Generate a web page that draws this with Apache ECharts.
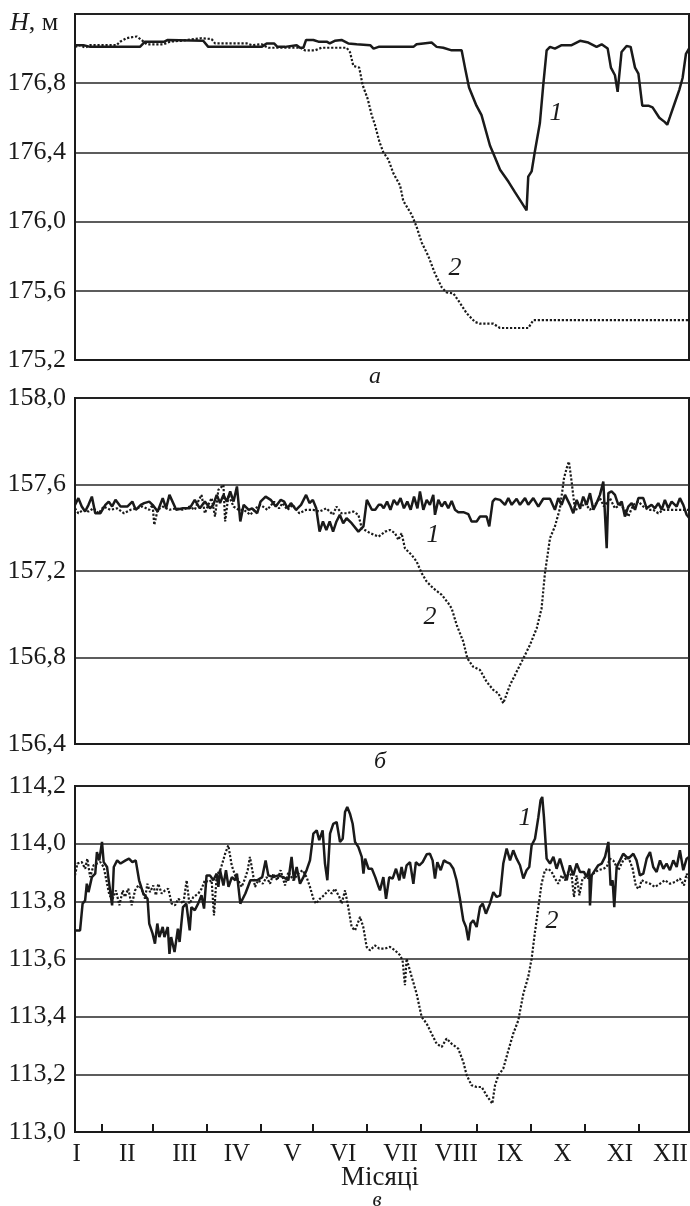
<!DOCTYPE html>
<html>
<head>
<meta charset="utf-8">
<script src="https://cdn.jsdelivr.net/npm/echarts@6/dist/echarts.min.js"></script>
<style>
  html, body { margin: 0; padding: 0; background: #fff; }
  #chart { width: 690px; height: 1206px; }
</style>
</head>
<body>
<div id="chart"></div>
<script>
// days of the year (0..364) against water level H, m
var aSolid = [[0,177.02],[5,177.02],[9,177.01],[38.5,177.01],[41.5,177.04],[53,177.04],[55,177.05],[76,177.045],[79,177.01],[110.6,177.01],[113.6,177.03],[118,177.03],[120,177.01],[124.5,177.01],[125.5,177.02],[131.4,177.02],[133.4,177.005],[135.4,177.005],[137,177.05],[141.3,177.05],[144.3,177.04],[149.2,177.04],[151,177.03],[154,177.045],[158,177.05],[162,177.03],[167,177.025],[175,177.02],[177,177.0],[180,177.01],
  [200.6,177.01],[202.5,177.025],[206.5,177.03],[211.4,177.035],[214.4,177.01],[218.3,177.005],[223.3,176.99],[229.2,176.99],[231.2,176.89],[233.6,176.775],[238,176.67],[241,176.615],[246,176.44],[249,176.37],[252,176.30],[257,176.23],[260.8,176.17],[264.8,176.11],[267.7,176.065],[268.7,176.26],[270.7,176.29],[272.7,176.41],[275.6,176.57],[277.6,176.79],[279.6,176.99],[281.6,177.01],[284.5,177.0],[288.5,177.02],[294.4,177.02],[299.4,177.045],[304.3,177.035],[309.2,177.01],[312.2,177.025],[315.8,177.0],[317.7,176.89],[320.1,176.846],[321.7,176.75],[324,176.98],[327,177.015],[329.4,177.01],[332,176.89],[334,176.855],[336.3,176.67],[339.9,176.67],[342.4,176.66],[346.4,176.60],[349.7,176.575],[351.1,176.56],[352.7,176.605],[355.7,176.69],[358.2,176.76],[360.2,176.83],[362.2,176.97],[364,177.0]];
var aDotted = [[0,177.01],[3,177.02],[6,177.005],[9,177.02],[24.7,177.02],[26.7,177.04],[30.6,177.06],[33,177.065],[36.6,177.07],[39.5,177.05],[42.5,177.025],[52.4,177.025],[56.3,177.04],[62.2,177.045],[75,177.06],[81,177.055],[83,177.03],[101.8,177.03],[104.7,177.02],[110.6,177.025],[114.6,177.005],[133.4,177.005],[136.3,176.99],[142.3,176.99],[146.2,177.005],[161,177.005],[163,176.98],[165,176.90],[168.5,176.89],[170.5,176.79],[173.5,176.71],[175.9,176.615],[177.8,176.56],[180.5,176.46],
  [182.8,176.40],[185.7,176.36],[188.7,176.28],[192.7,176.21],[194.6,176.12],[199.6,176.04],[202.5,175.97],[205.5,175.88],[209.5,175.80],[213.4,175.70],[217.4,175.62],[220.3,175.59],[224.3,175.585],[228.2,175.53],[232.2,175.47],[237.1,175.42],[240.1,175.41],[248,175.41],[251.9,175.385],[268.7,175.385],[271.7,175.43],[364,175.43]];

var bSolid = [[0,157.506],[2,157.537],[4,157.498],[6,157.475],[8,157.506],[10,157.544],[12,157.467],[15,157.467],[18,157.506],[20,157.521],[22,157.498],[24,157.529],[27,157.498],[31,157.498],[34,157.521],[36,157.483],[39,157.506],[41,157.514],[44,157.521],[46,157.506],[49,157.475],[52,157.537],[54,157.49],[56,157.552],[60,157.483],[64,157.49],[68,157.49],[71,157.529],[74,157.49],[77,157.521],[80,157.49],[82,157.506],[84,157.552],[86,157.514],[88,157.552],[90,157.521],[92,157.568],[94,157.521],[96,157.591],[97,157.591],[98,157.429],[100,157.506],[103,157.483],[105,157.49],[108,157.467],[110,157.521],[113,157.544],[116,157.529],[119,157.498],[122,157.529],[124,157.521],[126,157.49],[128,157.514],[131,157.483],[134,157.506],[137,157.552],[139,157.514],[141,157.529],[143,157.49],[145,157.382],[147,157.429],[149,157.39],[151,157.429],[153,157.382],[155,157.429],[157,157.46],[159,157.421],[161,157.444],[164,157.421],[168,157.382],[171,157.406],[173,157.529],[176,157.483],[178,157.483],[180,157.506],
  [181.5,157.506],[183,157.49],[185,157.521],[187,157.483],[189,157.529],[191,157.506],[193,157.537],[195,157.49],[197,157.521],[199,157.483],[201,157.544],[203,157.49],[204.5,157.568],[206.5,157.483],[208.5,157.529],[210.4,157.506],[212.4,157.552],[213.4,157.46],[215.4,157.529],[217.4,157.498],[219.3,157.521],[221.3,157.49],[223.3,157.524],[225.3,157.483],[227.2,157.472],[230.2,157.472],[233.2,157.463],[235.1,157.429],[238.1,157.429],[240.1,157.452],[244,157.452],[245.6,157.406],[247.6,157.521],[249,157.534],[252,157.529],[254.9,157.506],[256.9,157.537],[258.9,157.506],[261.8,157.534],[263.8,157.506],[266.8,157.537],[268.7,157.506],[271.7,157.537],[274.7,157.498],[277.6,157.534],[281.6,157.534],[284.5,157.483],[286.5,157.537],[288.5,157.506],[290.5,157.552],[293.4,157.506],[295.4,157.467],[297.4,157.529],[299.4,157.49],[301.3,157.544],[303.3,157.506],[305.3,157.56],[307.3,157.483],[309.2,157.514],[311.2,157.552],[313.2,157.614],[314.2,157.617],[315.2,157.305],[316.2,157.56],[318.1,157.568],[320.1,157.552],[322.1,157.506],[324.1,157.521],[326,157.452],[328,157.498],[330,157.514],[332,157.483],[334,157.537],[336.9,157.537],[338.9,157.49],[341.8,157.506],[343.8,157.49],[345.8,157.514],[347.8,157.483],[349.7,157.529],[351.7,157.49],[353.7,157.521],[356.7,157.498],[358.6,157.537],[360.6,157.506],[362.6,157.46],[364,157.447]];
var bDotted = [[0,157.49],[2,157.467],[5,157.483],[8,157.475],[11,157.49],[14,157.467],[17,157.498],[21,157.483],[25,157.49],[29,157.467],[33,157.483],[37,157.49],[40,157.498],[44,157.483],[46,157.506],[47,157.413],[49,157.483],[52,157.498],[56,157.483],[60,157.49],[64,157.483],[68,157.498],[71,157.483],[73,157.521],[75,157.552],[77,157.467],[79,157.506],[81,157.537],[83,157.452],[85,157.575],[88,157.598],[89,157.429],[91,157.552],[94,157.498],[97,157.483],[100,157.483],[104,157.46],[107,157.49],[110,157.506],[114,157.483],[118,157.521],[121,157.49],[123,157.514],[126,157.483],[129,157.506],[133,157.467],[137,157.483],[141,157.483],[145,157.475],[149,157.49],[153,157.46],[155,157.498],[158,157.467],[161,157.467],[165,157.475],[168,157.46],[170,157.398],[175,157.375],[180,157.359],
  [183.8,157.382],[186.7,157.39],[189.7,157.375],[191.7,157.344],[193.6,157.375],[195.6,157.305],[199.6,157.274],[202.5,157.244],[205.5,157.19],[208.5,157.151],[212.4,157.12],[217.4,157.09],[221.3,157.051],[223.3,157.027],[226.3,156.95],[230.2,156.873],[232.6,156.796],[236.1,156.757],[240.1,156.742],[244,156.688],[248,156.65],[251,156.634],[253.9,156.588],[257.9,156.673],[261.8,156.734],[265.8,156.796],[269.7,156.858],[273.7,156.935],[276.6,157.027],[278.6,157.19],[281.6,157.352],[284.5,157.406],[287.5,157.49],[289.9,157.629],[291.5,157.676],[292.8,157.706],[294.4,157.614],[296.4,157.483],[299.4,157.49],[302.3,157.514],[305.3,157.483],[308.3,157.506],[311.2,157.537],[313.6,157.498],[317.1,157.537],[320.1,157.49],[323.1,157.506],[326,157.483],[328,157.452],[331,157.506],[334,157.521],[336.9,157.498],[339.9,157.483],[342.8,157.483],[345.8,157.467],[348.8,157.483],[352.7,157.483],[358.6,157.483],[364,157.483]];

var cSolid = [[0,113.699],[3,113.699],[4.5,113.792],[6,113.803],[7,113.861],[8,113.832],[10,113.884],[12,113.896],[13,113.971],[14.4,113.942],[16,114.006],[17,113.936],[19,113.919],[20,113.873],[22,113.786],[23,113.919],[25,113.942],[27,113.931],[30,113.942],[32,113.948],[34,113.936],[36,113.942],[38,113.873],[40.5,113.827],[43,113.809],[44,113.723],[46,113.688],[47.4,113.653],[48.8,113.723],[50,113.676],[52,113.711],[53,113.676],[55,113.711],[56,113.618],[57,113.676],[59,113.624],[61,113.705],[62,113.659],[64,113.780],[66,113.792],[68,113.699],[69,113.780],[71,113.769],[73,113.792],[75,113.821],[76.5,113.775],[78,113.890],[80,113.890],[82,113.873],[84,113.896],[85,113.850],[86,113.908],[88,113.855],[89.5,113.908],[91,113.850],[93,113.884],[95,113.873],[96,113.896],[98,113.792],[101,113.827],[104,113.873],[108,113.873],[111,113.884],[113,113.942],[114.6,113.890],[117.6,113.884],[120.5,113.890],[123.5,113.884],[126.5,113.873],[128.4,113.954],[129.8,113.873],[131.4,113.919],[133.4,113.861],[135.4,113.884],[137.3,113.908],[139.3,113.942],[141.3,114.035],[143.3,114.046],[144.8,114.012],[146.8,114.046],[148.2,113.931],[149.6,113.873],[151.2,114.035],[153.1,114.069],[155.1,114.075],[157.1,114.006],[158.7,114.017],[160.1,114.110],[161.4,114.127],[163,114.104],[164.6,114.069],[166,114.006],[168,113.988],[170,113.954],[171,113.896],[172,113.948],[174,113.913],[176,113.913],[178,113.884],[180,113.850],
  [180.8,113.838],[182.8,113.884],[184.4,113.809],[186.3,113.884],[188.3,113.879],[190.3,113.913],[192.3,113.873],[193.6,113.919],[195,113.879],[196.6,113.925],[198.6,113.936],[200.6,113.861],[202.1,113.936],[204.1,113.925],[206.1,113.936],[208.5,113.963],[210.4,113.965],[212,113.942],[213.4,113.879],[214.8,113.936],[216.8,113.908],[218.7,113.942],[220.3,113.936],[222.3,113.931],[224.3,113.913],[226.2,113.873],[228.2,113.809],[230.2,113.734],[231.8,113.711],[233.2,113.665],[234.5,113.723],[236.1,113.734],[238.1,113.711],[240.1,113.780],[241.7,113.792],[243.6,113.757],[246,113.792],[248,113.832],[250,113.815],[252,113.821],[253.9,113.931],[255.9,113.983],[257.9,113.942],[259.8,113.977],[261.8,113.948],[263.8,113.925],[265.8,113.879],[267.7,113.908],[269.3,113.919],[270.7,113.994],[272.7,114.017],[274.7,114.092],[276,114.150],[277,114.162],[278,114.092],[279.6,113.948],[281.6,113.931],[283.6,113.954],[285.5,113.913],[287.5,113.948],[289.5,113.908],[291.5,113.873],[293.4,113.925],[295.4,113.890],[297.4,113.931],[299.4,113.902],[301.7,113.902],[303.3,113.884],[304.9,113.913],[305.3,113.786],[306.3,113.890],[308.3,113.908],[310.2,113.925],[312.2,113.931],[314.2,113.954],[316.2,114.006],[317.5,113.855],[318.7,113.873],[319.7,113.780],[321.1,113.919],[323.1,113.942],[325,113.965],[328,113.948],[331,113.965],[332.9,113.942],[334.9,113.890],[336.9,113.896],[338.9,113.948],[340.9,113.971],[342.8,113.919],[344.8,113.902],[346.8,113.942],[348.8,113.913],[350.7,113.931],[352.7,113.908],[354.7,113.942],[356.7,113.919],[358.6,113.977],[360.6,113.908],[362.6,113.948],[364,113.954]];
var cDotted = [[0,113.890],[1.4,113.931],[4,113.936],[6,113.913],[7.3,113.948],[9,113.884],[11,113.925],[13,113.931],[15,113.936],[17,113.919],[18.4,113.879],[20.4,113.821],[22.3,113.809],[24.3,113.838],[26.3,113.786],[28.3,113.838],[29.6,113.815],[31.6,113.844],[33.6,113.786],[35.6,113.838],[37.5,113.855],[39.5,113.844],[41.5,113.809],[42.9,113.861],[44.5,113.832],[46.4,113.855],[48,113.821],[49.4,113.861],[51.4,113.827],[53.4,113.838],[55.3,113.844],[57.3,113.792],[59.3,113.786],[61.3,113.809],[64.2,113.792],[66.2,113.873],[67.8,113.792],[70.2,113.815],[73.1,113.827],[75.1,113.844],[77,113.873],[79,113.867],[81,113.873],[82.4,113.751],[84,113.890],[86.4,113.913],[89,113.965],[90.9,113.994],[92.9,113.925],[94.9,113.890],[96.8,113.873],[98.8,113.850],[100.8,113.879],[102.4,113.908],[103.7,113.954],[105.3,113.902],[106.7,113.850],[108.7,113.873],[111.3,113.861],[113.6,113.884],[115.6,113.861],[117.6,113.896],[119.9,113.873],[121.9,113.908],[124.5,113.855],[126.5,113.902],[129.4,113.873],[132.4,113.896],[134.9,113.908],[137.3,113.884],[139.3,113.850],[141.3,113.809],[142.9,113.792],[145.2,113.809],[147.6,113.821],[150.2,113.838],[152.2,113.827],[154.1,113.844],[156.7,113.815],[158.1,113.792],[160.1,113.838],[162,113.780],[164,113.711],[166,113.699],[169,113.746],[170.9,113.711],[172.9,113.642],[174.9,113.630],[177.8,113.647],[180.4,113.636],
  [183.8,113.636],[186.7,113.642],[189.7,113.630],[192.7,113.613],[194.2,113.595],[195.6,113.509],[196.6,113.601],[199.6,113.538],[202.5,113.480],[205.5,113.399],[208.5,113.376],[211.4,113.341],[214.4,113.306],[217.4,113.295],[220.3,113.324],[223.3,113.306],[227.2,113.289],[230.2,113.243],[232.2,113.197],[235.1,113.162],[238.1,113.156],[241.1,113.156],[244,113.127],[246,113.110],[247.4,113.098],[249,113.162],[251,113.197],[253.9,113.220],[256.9,113.283],[259.8,113.341],[262.8,113.387],[265.8,113.480],[268.7,113.538],[270.7,113.601],[272.7,113.694],[274.7,113.780],[276.6,113.861],[278.6,113.908],[280.6,113.913],[282.6,113.902],[284.5,113.879],[286.5,113.861],[288.5,113.890],[290.5,113.873],[292.4,113.902],[294.4,113.890],[295.8,113.815],[297.4,113.890],[299,113.821],[300.9,113.879],[302.9,113.884],[304.9,113.879],[307.3,113.896],[310.2,113.908],[313.2,113.913],[315.2,113.919],[317.1,113.948],[319.1,113.942],[322.1,113.908],[325,113.942],[328,113.954],[330.6,113.913],[332.6,113.850],[334.5,113.844],[335.9,113.873],[337.9,113.867],[340.9,113.861],[343.8,113.850],[346.8,113.861],[349.7,113.873],[352.7,113.861],[355.7,113.867],[358.6,113.879],[361,113.855],[362.6,113.896],[364,113.879]];

var monthNames = ['I','II','III','IV','V','VI','VII','VIII','IX','X','XI','XII'];
var monthLabelDays = [1, 31, 65, 96, 129, 159, 193, 226, 258, 289, 323, 353];
var monthTickDays = [16, 46, 78, 110, 141, 173, 205, 238, 270, 302, 334];

var yRanges = [
  { min: 175.2, max: 177.2, interval: 0.4 },
  { min: 156.4, max: 158.0, interval: 0.4 },
  { min: 113.0, max: 114.2, interval: 0.2 }
];

var serif = '"Liberation Serif", "DejaVu Serif", serif';
var ink = '#1a1a1a';

var chart = echarts.init(document.getElementById('chart'), null, { renderer: 'canvas' });

var grids = [14, 398, 786].map(function (top) {
  return {
    left: 75, top: top, width: 614, height: 346,
    show: true, borderColor: ink, borderWidth: 2, backgroundColor: 'transparent',
    outerBoundsMode: 'none', containLabel: false
  };
});

var xAxes = [0, 1, 2].map(function (i) {
  var ax = {
    type: 'value', gridIndex: i, min: 0, max: 364,
    axisLine: { show: true, lineStyle: { color: ink, width: 2 } },
    axisTick: { show: false },
    axisLabel: { show: false },
    splitLine: { show: false }
  };
  if (i === 2) {
    ax.axisTick = { show: true, inside: true, length: 8, customValues: monthTickDays,
      lineStyle: { color: ink, width: 2 } };
    ax.axisLabel = {
      show: true, customValues: monthLabelDays, margin: 10,
      fontFamily: serif, fontSize: 25, color: ink,
      formatter: function (v) {
        var best = 0;
        for (var k = 1; k < monthLabelDays.length; k++) {
          if (Math.abs(monthLabelDays[k] - v) < Math.abs(monthLabelDays[best] - v)) best = k;
        }
        return monthNames[best];
      }
    };
  }
  return ax;
});

var yAxes = yRanges.map(function (r, i) {
  return {
    type: 'value', gridIndex: i, min: r.min, max: r.max, interval: r.interval,
    axisLine: { show: true, lineStyle: { color: ink, width: 2 } },
    axisTick: { show: false },
    splitLine: { show: true, lineStyle: { color: '#262626', width: 1.6 } },
    axisLabel: {
      margin: 9, fontFamily: serif, fontSize: 26, color: ink,
      formatter: function (v) {
        if (i === 0 && Math.abs(v - r.max) < 1e-6) return '';
        return v.toFixed(1).replace('.', ',');
      }
    }
  };
});

function line(data, idx, dotted) {
  return {
    type: 'line', xAxisIndex: idx, yAxisIndex: idx, data: data,
    showSymbol: false, silent: true, animation: false, z: dotted ? 2 : 3,
    lineStyle: { color: ink, width: dotted ? 2.2 : 2.5, type: dotted ? [2.2, 1.8] : 'solid' }
  };
}

function txt(x, y, s, size, italic) {
  return {
    type: 'text', x: x, y: y, silent: true,
    style: { text: s, fill: ink, font: (italic ? 'italic ' : '') + size + 'px ' + serif,
      textAlign: 'center', textVerticalAlign: 'middle' }
  };
}

chart.setOption({
  backgroundColor: '#fff',
  animation: false,
  grid: grids,
  xAxis: xAxes,
  yAxis: yAxes,
  series: [
    line(aDotted, 0, true), line(aSolid, 0, false),
    line(bDotted, 1, true), line(bSolid, 1, false),
    line(cDotted, 2, true), line(cSolid, 2, false)
  ],
  graphic: [
    {
      type: 'text', x: 10, y: 23, silent: true,
      style: {
        text: '{i|H}, м', fill: ink, font: '26px ' + serif, textVerticalAlign: 'middle',
        rich: { i: { fontStyle: 'italic', fontFamily: serif, fontSize: 26, fill: ink } }
      }
    },
    txt(556, 113, '1', 26, true), txt(455, 268, '2', 26, true),
    txt(433, 535, '1', 26, true), txt(430, 617, '2', 26, true),
    txt(525, 818, '1', 26, true), txt(552, 921, '2', 26, true),
    txt(375, 377, 'а', 24, true),
    txt(380, 762, 'б', 24, true),
    txt(380, 1178, 'Місяці', 27, false),
    txt(377, 1200, 'в', 21, true)
  ]
});
</script>
</body>
</html>
